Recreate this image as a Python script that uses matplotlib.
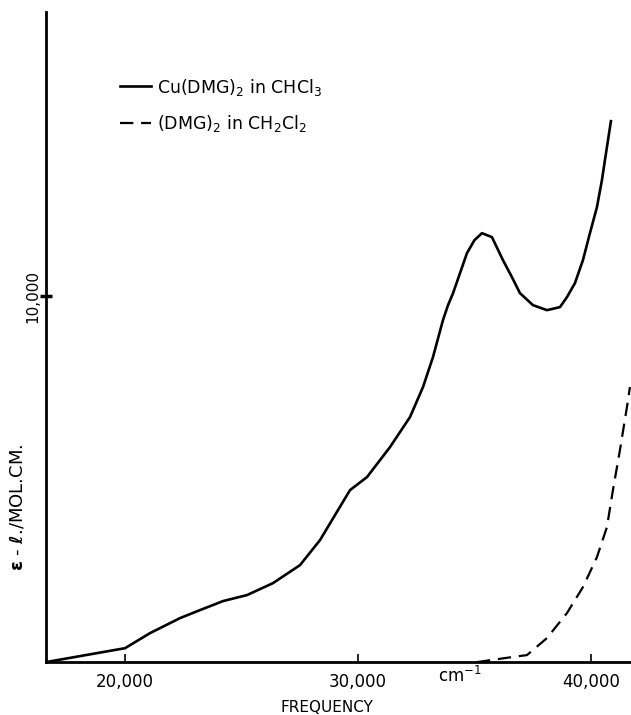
import matplotlib.pyplot as plt
import numpy as np

# Cu(DMG)2 in CHCl3  (frequency cm-1, epsilon)
cu_freq = [16610, 20000, 21073, 22361, 23219, 24206, 25236, 26352, 27511, 28369,
           29657, 30386, 31373, 32232, 32790, 33219, 33648, 33863, 34077, 34678,
           35000, 35322, 35751, 36223, 36609, 36953, 37511, 38112, 38670, 38970,
           39313, 39657, 39957, 40258, 40472, 40601, 40858]
cu_eps = [0, 380, 792, 1202, 1421, 1667, 1831, 2158, 2650, 3333,
          4699, 5055, 5874, 6694, 7514, 8333, 9344, 9750, 10074, 11175,
          11530, 11721, 11612, 10984, 10519, 10082, 9754, 9617, 9699, 9973,
          10355, 10984, 11721, 12432, 13169, 13716, 14781]

# (DMG)2 in CH2Cl2
dmg_freq = [35107, 36609, 37253, 38112, 38970, 39657, 40258, 40687, 40944, 41245, 41545, 41674]
dmg_eps = [0, 137, 191, 656, 1339, 2049, 2869, 3689, 4699, 5792, 6967, 7514]

x_ticks = [20000, 30000, 40000]
x_ticklabels = ['20,000', '30,000', '40,000']
y_ticks = [10000]
y_ticklabels = ['10,000']

plt.rcParams['font.family'] = ['DejaVu Sans']

fig = plt.figure(figsize=(6.31, 7.15), dpi=100)
ax = fig.add_axes([0.073, 0.074, 0.927, 0.909])

ax.plot(cu_freq, cu_eps, color='black', lw=1.9, solid_joinstyle='round',
        label=r'Cu(DMG)$_2$ in CHCl$_3$')
ax.plot(dmg_freq, dmg_eps, color='black', lw=1.6, dashes=(6, 3.5),
        label=r'(DMG)$_2$ in CH$_2$Cl$_2$')

ax.set_xlim(16610, 41720)
ax.set_ylim(0, 17760)

ax.spines['top'].set_visible(False)
ax.spines['right'].set_visible(False)
ax.spines['left'].set_linewidth(2)
ax.spines['bottom'].set_linewidth(2)

ax.set_xticks(x_ticks)
ax.set_xticklabels(x_ticklabels, fontsize=12)
ax.tick_params(axis='x', direction='in', length=6, width=1.2, pad=8)
ax.set_yticks(y_ticks)
ax.set_yticklabels(y_ticklabels, fontsize=11, rotation=90, va='center')
ax.tick_params(axis='y', direction='inout', length=8, width=2.5, pad=0)

ax.set_xlabel('FREQUENCY', fontsize=11)
ax.xaxis.set_label_coords(0.48, -0.058)
ax.set_ylabel(r'$\mathbf{\varepsilon}$ - $\mathbf{\ell}$./MOL.CM.', fontsize=13)
ax.yaxis.set_label_coords(-0.034, 0.239)

ax.text(0.708, -0.021, r'cm$^{-1}$', transform=ax.transAxes, fontsize=12,
        ha='center', va='center')

ax.legend(loc='upper left', bbox_to_anchor=(0.1, 0.925), frameon=False,
          handlelength=1.8, handletextpad=0.3, fontsize=12.5, labelspacing=0.9)

fig.savefig('out.png', dpi=100)
